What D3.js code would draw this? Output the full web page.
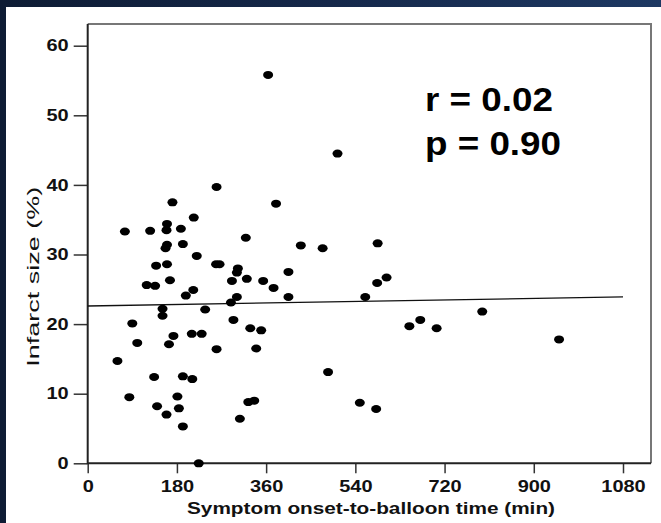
<!DOCTYPE html>
<html>
<head>
<meta charset="utf-8">
<script src="https://cdn.jsdelivr.net/npm/d3@7"></script>
<style>
  html, body { margin: 0; padding: 0; }
  body {
    width: 661px; height: 523px; overflow: hidden;
    background: linear-gradient(90deg, #0e1c34 0%, #15284a 50%, #1d3862 100%);
  }
  svg { display: block; }
  .tick text { font-family: "Liberation Sans", Arial, sans-serif; font-weight: bold; font-size: 16px; fill: #111; }
  .tick line { stroke: #333; stroke-width: 1.5; }
</style>
</head>
<body>
<svg id="chart"></svg>
<script>
// symptom onset-to-balloon time (min) and infarct size (%), one entry per patient
const onsetMin = [260, 171, 214, 160, 75, 126, 159, 188, 319, 160,
                  157, 192, 220, 138, 160, 259, 266, 303, 301, 291,
                  321, 166, 119, 136, 213, 198, 301, 289, 151, 151,
                  237, 294, 90, 380, 430, 474, 585, 354, 405, 375,
                  405, 584, 603, 560, 328, 350, 796, 649, 671, 704,
                  951, 582, 549, 340, 485, 324, 336, 307, 173, 164,
                  210, 230, 100, 260, 60, 134, 192, 211, 84, 181,
                  140, 184, 159, 192, 224, 504, 364];
const infarctPct = [39.7, 37.5, 35.3, 34.4, 33.3, 33.4, 33.5, 33.7, 32.4, 31.4,
                    30.9, 31.5, 29.8, 28.4, 28.6, 28.6, 28.6, 28.0, 27.4, 26.2,
                    26.5, 26.3, 25.6, 25.5, 24.9, 24.1, 23.9, 23.1, 22.2, 21.2,
                    22.1, 20.6, 20.1, 37.3, 31.3, 30.9, 31.6, 26.2, 27.5, 25.2,
                    23.9, 25.9, 26.7, 23.9, 19.4, 19.1, 21.8, 19.7, 20.6, 19.4,
                    17.8, 7.8, 8.7, 16.5, 13.1, 8.8, 9.0, 6.4, 18.3, 17.1,
                    18.6, 18.6, 17.3, 16.4, 14.7, 12.4, 12.5, 12.1, 9.5, 9.6,
                    8.2, 7.9, 7.0, 5.3, 0, 44.5, 55.8];

const xTicks = [0, 180, 360, 540, 720, 900, 1080];
const yTicks = [0, 10, 20, 30, 40, 50, 60];

// regression line end points
const fitX = [0, 1080];
const fitY = [22.6, 23.9];

const statLines = ["r = 0.02", "p = 0.90"];
const xTitle = "Symptom onset-to-balloon time (min)";
const yTitle = "Infarct size (%)";

const W = 661, H = 523;
const plot = {left: 87.7, right: 651, top: 24, bottom: 463.3};

const svg = d3.select("#chart").attr("width", W).attr("height", H);

// white slide panel
svg.append("rect")
  .attr("x", 6).attr("y", 7)
  .attr("width", W - 6).attr("height", H - 7)
  .attr("fill", "#fff");

const x = d3.scaleLinear().domain([0, 1080]).range([plot.left, 623]);
const y = d3.scaleLinear().domain([0, 60]).range([plot.bottom, 45.7]);

const xAxis = d3.axisBottom(x)
  .tickValues(xTicks)
  .tickSize(10)
  .tickPadding(7)
  .tickSizeOuter(0)
  .tickFormat(d3.format("d"));

const yAxis = d3.axisLeft(y)
  .tickValues(yTicks)
  .tickSize(14)
  .tickPadding(5)
  .tickSizeOuter(0);

const xAxisG = svg.append("g")
  .attr("transform", `translate(0,${plot.bottom})`)
  .call(xAxis);
const yAxisG = svg.append("g")
  .attr("transform", `translate(${plot.left},0)`)
  .call(yAxis);

xAxisG.select(".domain").remove();
yAxisG.select(".domain").remove();

// labels are drawn a bit wider than the font (as in the original slide)
svg.selectAll(".tick text")
  .attr("textLength", d => String(d).length * 11.1)
  .attr("lengthAdjust", "spacingAndGlyphs");

// frame: grey top/right, black axes
svg.append("path")
  .attr("d", `M${plot.left},${plot.top}H${plot.right}V${plot.bottom}`)
  .attr("fill", "none")
  .attr("stroke", "#777")
  .attr("stroke-width", 2);

svg.append("path")
  .attr("d", `M${plot.left},${plot.top}V${plot.bottom}H${plot.right}`)
  .attr("fill", "none")
  .attr("stroke", "#222")
  .attr("stroke-width", 2);

// regression line
svg.append("line")
  .attr("x1", x(fitX[0])).attr("y1", y(fitY[0]))
  .attr("x2", x(fitX[1])).attr("y2", y(fitY[1]))
  .attr("stroke", "#111")
  .attr("stroke-width", 1.3);

// points
svg.append("g")
  .selectAll("ellipse")
  .data(d3.range(onsetMin.length))
  .join("ellipse")
  .attr("cx", i => x(onsetMin[i]))
  .attr("cy", i => y(infarctPct[i]))
  .attr("rx", 5)
  .attr("ry", 4)
  .attr("fill", "#000");

// correlation text
svg.selectAll(".stat")
  .data(statLines)
  .join("text")
  .attr("class", "stat")
  .attr("x", 425)
  .attr("y", (d, i) => 110.5 + i * 44.5)
  .attr("textLength", (d, i) => i === 0 ? 128 : 136)
  .attr("lengthAdjust", "spacingAndGlyphs")
  .style("font-family", '"Liberation Sans", Arial, sans-serif')
  .style("font-weight", "bold")
  .style("font-size", "33px")
  .attr("fill", "#000")
  .text(d => d);

// axis titles
svg.append("text")
  .attr("x", 371)
  .attr("y", 514)
  .attr("text-anchor", "middle")
  .attr("textLength", 368)
  .attr("lengthAdjust", "spacingAndGlyphs")
  .style("font-family", '"Liberation Sans", Arial, sans-serif')
  .style("font-weight", "bold")
  .style("font-size", "17px")
  .attr("fill", "#111")
  .text(xTitle);

svg.append("text")
  .attr("transform", "translate(39,276.7) rotate(-90)")
  .attr("text-anchor", "middle")
  .attr("textLength", 180)
  .attr("lengthAdjust", "spacingAndGlyphs")
  .style("font-family", '"Liberation Sans", Arial, sans-serif')
  .style("font-size", "17px")
  .attr("fill", "#111")
  .text(yTitle);
</script>
</body>
</html>
